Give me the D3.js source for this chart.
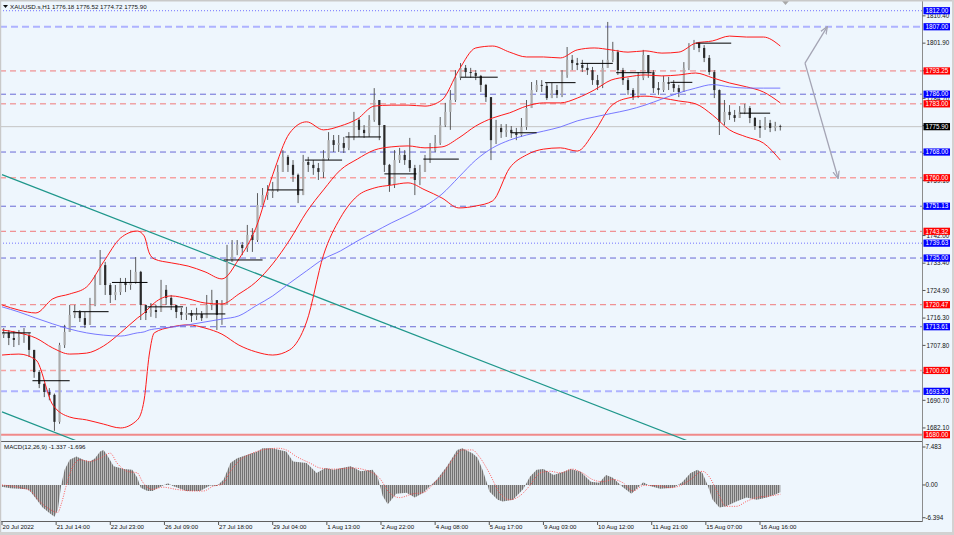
<!DOCTYPE html>
<html><head><meta charset="utf-8">
<script src="https://cdn.jsdelivr.net/npm/d3@7"></script>
<style>
body{margin:0;background:#fff;}
svg{display:block;}
text{font-family:"Liberation Sans",Arial,sans-serif;}
</style>
</head><body>
<svg id="c" width="954" height="535"></svg>
<script>
// ---------------- DATA ----------------
const titleText = "XAUUSD.s,H1  1776.18 1776.52 1774.72 1775.90";
const macdTitle = "MACD(12,26,9) -1.337 -1.696";
const timeLabels = ["20 Jul 2022","21 Jul 14:00","22 Jul 23:00","26 Jul 09:00","27 Jul 18:00","29 Jul 04:00","1 Aug 13:00","2 Aug 22:00","4 Aug 08:00","5 Aug 17:00","9 Aug 03:00","10 Aug 12:00","11 Aug 21:00","15 Aug 07:00","16 Aug 16:00"];
const timeLabelIdx = [0,32,64,96,128,160,192,224,256,288,320,352,384,416,448];
const priceTicks = [1810.40,1801.90,1793.30,1784.70,1776.20,1767.60,1759.10,1750.50,1742.00,1733.40,1724.90,1716.30,1707.80,1699.30,1690.70,1682.10];
const macdTicks = [7.483,0.00,-6.394];
const macdTickLabels = ["7.483","0.00","-6.394"];
const currentPrice = 1775.90;

const levelPrices = [1812.00,1807.00,1793.25,1786.00,1783.00,1768.00,1760.00,1751.13,1743.32,1739.63,1735.00,1720.47,1713.61,1700.00,1693.50,1680.00];
const levelKinds  = ["bdot","blight","r","b","r","b","rlight","b","r","bdot","b","r","b","rlight","blight","rsolid"];

// 3-hour candles (hourly bar index 0..460)
const opens = [1711.0,1711.7,1710.1,1709.5,1710.4,1711.0,1706.4,1699.5,1695.8,1693.3,1692.4,1684.0,1707.9,1712.0,1717.3,1718.2,1716.3,1714.2,1720.4,1726.6,1732.8,1726.6,1723.5,1724.4,1727.5,1726.6,1727.5,1730.7,1720.4,1717.9,1718.8,1718.2,1725.1,1722.6,1720.4,1718.2,1717.3,1717.9,1717.0,1717.6,1716.3,1720.4,1721.9,1717.3,1720.4,1733.8,1737.5,1739.1,1738.1,1742.2,1740.6,1751.5,1754.6,1755.6,1756.2,1761.8,1766.5,1764.0,1760.9,1754.6,1764.9,1764.0,1763.0,1761.8,1766.1,1771.7,1770.2,1770.8,1769.3,1772.4,1778.0,1774.9,1773.9,1778.0,1784.2,1776.4,1764.0,1757.7,1765.5,1767.1,1765.5,1763.0,1759.3,1761.8,1765.5,1768.6,1770.8,1776.4,1780.5,1784.2,1791.1,1794.2,1792.9,1792.6,1791.7,1788.9,1785.1,1771.7,1775.5,1774.2,1774.9,1773.9,1773.3,1775.8,1781.7,1787.3,1788.9,1788.6,1784.8,1787.3,1785.8,1792.0,1796.7,1795.7,1795.1,1794.2,1793.5,1790.4,1788.9,1794.2,1796.7,1799.1,1793.5,1790.4,1787.3,1785.1,1791.1,1798.2,1792.9,1787.9,1787.3,1789.8,1789.2,1787.9,1786.7,1794.2,1800.4,1801.9,1800.4,1797.3,1792.9,1787.3,1777.4,1780.5,1779.5,1778.6,1780.5,1781.7,1778.6,1776.1,1775.5,1777.0,1775.5,1776.1];
const highs = [1713.2,1712.6,1712.3,1712.6,1713.2,1711.7,1706.4,1700.1,1696.1,1694.5,1692.8,1708.6,1714.2,1720.4,1720.4,1718.8,1718.2,1722.6,1729.7,1737.5,1733.8,1727.2,1726.6,1728.8,1728.8,1731.3,1735.3,1731.0,1720.4,1721.0,1720.4,1728.2,1726.6,1723.5,1720.4,1719.5,1719.8,1718.8,1719.5,1718.5,1723.5,1725.1,1721.9,1721.9,1739.1,1740.6,1740.6,1740.0,1745.3,1744.3,1755.2,1756.8,1757.7,1758.7,1764.0,1768.6,1767.1,1765.5,1761.3,1767.1,1766.5,1765.5,1764.6,1768.6,1774.2,1773.3,1773.3,1772.7,1774.2,1780.5,1778.6,1776.4,1779.5,1787.9,1784.2,1776.4,1764.3,1768.6,1769.3,1768.6,1772.4,1764.0,1764.0,1767.1,1770.8,1773.3,1778.9,1783.3,1787.3,1793.5,1795.7,1795.1,1794.2,1793.5,1792.0,1789.2,1785.1,1778.0,1776.7,1776.7,1776.1,1775.5,1778.6,1784.2,1789.8,1790.4,1790.4,1789.5,1789.5,1788.9,1793.5,1800.7,1798.2,1797.3,1796.7,1795.7,1794.5,1792.0,1796.7,1808.5,1802.3,1799.8,1794.2,1791.1,1787.9,1792.9,1799.8,1798.2,1793.5,1789.8,1791.7,1791.4,1790.4,1788.9,1796.0,1801.9,1802.9,1802.3,1801.3,1798.2,1793.5,1787.5,1784.2,1782.6,1781.1,1782.3,1783.0,1782.3,1778.9,1778.0,1778.9,1778.0,1777.4,1776.5];
const lows = [1710.1,1707.9,1707.3,1707.9,1708.6,1704.2,1697.7,1694.5,1691.7,1690.7,1681.2,1683.4,1707.0,1712.0,1716.3,1715.1,1713.2,1714.2,1720.0,1726.6,1723.5,1721.0,1721.9,1723.5,1724.4,1725.1,1727.0,1715.7,1715.7,1716.7,1716.3,1718.2,1720.4,1718.8,1716.3,1715.7,1715.7,1715.1,1715.7,1715.4,1716.3,1718.8,1712.6,1714.2,1720.4,1733.8,1735.9,1735.9,1736.9,1736.9,1740.0,1751.5,1753.1,1753.7,1755.6,1761.8,1761.8,1758.7,1752.1,1754.6,1761.8,1760.9,1759.3,1759.9,1765.5,1768.0,1768.0,1767.7,1768.6,1771.7,1772.7,1772.4,1772.7,1777.4,1771.7,1761.8,1755.6,1756.8,1764.6,1764.0,1761.8,1754.6,1757.7,1761.8,1764.6,1768.0,1770.2,1775.8,1774.9,1783.6,1790.4,1791.4,1791.1,1790.4,1786.7,1783.6,1765.5,1770.5,1772.4,1772.7,1772.4,1771.7,1772.7,1774.9,1781.7,1786.7,1786.7,1784.2,1784.8,1784.8,1785.1,1791.1,1793.5,1793.5,1792.9,1792.0,1788.9,1787.3,1787.9,1794.2,1796.0,1792.0,1788.9,1785.8,1784.2,1784.8,1790.4,1791.1,1786.4,1785.8,1786.7,1787.3,1786.7,1785.1,1786.7,1793.5,1799.8,1799.1,1796.0,1792.0,1784.8,1773.3,1776.4,1778.0,1777.4,1778.6,1779.8,1777.0,1774.9,1772.4,1774.9,1774.2,1774.5,1774.7];
const closes = [1711.7,1710.1,1709.5,1710.4,1711.0,1706.4,1699.5,1695.8,1693.3,1692.4,1684.0,1707.9,1712.0,1717.3,1718.2,1716.3,1714.2,1720.4,1726.6,1732.8,1726.6,1723.5,1724.4,1727.5,1726.6,1727.5,1730.7,1720.4,1717.9,1718.8,1718.2,1725.1,1722.6,1720.4,1718.2,1717.3,1717.9,1717.0,1717.6,1716.3,1720.4,1721.9,1717.3,1720.4,1733.8,1737.5,1739.1,1738.1,1742.2,1740.6,1751.5,1754.6,1755.6,1756.2,1761.8,1766.5,1764.0,1760.9,1754.6,1764.9,1764.0,1763.0,1761.8,1766.1,1771.7,1770.2,1770.8,1769.3,1772.4,1778.0,1774.9,1773.9,1778.0,1784.2,1776.4,1764.0,1757.7,1765.5,1767.1,1765.5,1763.0,1759.3,1761.8,1765.5,1768.6,1770.8,1776.4,1780.5,1784.2,1791.1,1794.2,1792.9,1792.6,1791.7,1788.9,1785.1,1771.7,1775.5,1774.2,1774.9,1773.9,1773.3,1775.8,1781.7,1787.3,1788.9,1788.6,1784.8,1787.3,1785.8,1792.0,1796.7,1795.7,1795.1,1794.2,1793.5,1790.4,1788.9,1794.2,1796.7,1799.1,1793.5,1790.4,1787.3,1785.1,1791.1,1798.2,1792.9,1787.9,1787.3,1789.8,1789.2,1787.9,1786.7,1794.2,1800.4,1801.9,1800.4,1797.3,1792.9,1787.3,1777.4,1780.5,1779.5,1778.6,1780.5,1781.7,1778.6,1776.1,1775.5,1777.0,1775.5,1776.1,1775.9];

// Bollinger bands and moving average, read at hourly bar indices
const bandIdx = [0,10,20,30,40,50,60,70,80,84,87,90,100,110,120,130,140,150,160,170,180,190,200,210,220,230,240,250,260,270,280,290,300,310,320,330,340,350,360,370,380,390,400,410,420,430,440,450,460];
const bbUpper = [1720.4,1718.8,1717.9,1722.3,1723.8,1726.0,1733.8,1741.2,1743.4,1741.9,1736.6,1734.7,1733.5,1732.5,1730.7,1728.5,1734.7,1744.3,1760.9,1773.9,1777.4,1774.9,1776.1,1778.3,1782.3,1782.6,1782.6,1782.3,1784.2,1793.5,1800.4,1801.0,1799.1,1797.6,1797.6,1797.3,1799.8,1800.4,1799.8,1799.1,1799.5,1798.8,1799.1,1801.9,1802.6,1804.1,1803.8,1803.8,1801.0];
const bbMiddle = [1712.6,1711.7,1710.1,1707.0,1705.1,1705.4,1707.6,1711.7,1716.3,1717.9,1719.5,1721.0,1723.2,1722.3,1721.0,1720.7,1723.8,1727.5,1733.2,1740.6,1749.3,1756.2,1762.4,1765.8,1768.6,1769.6,1769.9,1769.3,1769.6,1772.4,1776.1,1778.6,1780.2,1782.3,1783.3,1783.3,1784.8,1787.3,1790.4,1791.4,1792.0,1791.7,1792.0,1792.6,1791.1,1789.5,1788.3,1786.7,1783.3];
const bbLower = [1704.8,1705.1,1703.3,1689.3,1685.5,1684.6,1683.3,1682.1,1684.6,1690.8,1704.8,1711.7,1713.5,1714.2,1713.2,1711.3,1707.9,1705.8,1704.8,1706.4,1715.1,1735.9,1747.5,1754.3,1756.8,1757.7,1758.4,1756.2,1753.7,1750.6,1751.2,1752.8,1763.0,1767.1,1768.9,1769.3,1768.3,1774.2,1782.3,1784.8,1785.4,1784.8,1783.9,1783.0,1779.5,1774.9,1772.7,1770.8,1765.5];
const maLine = [1719.8,1718.2,1716.3,1714.5,1712.9,1711.7,1711.0,1710.7,1711.7,1712.0,1712.6,1712.9,1713.5,1714.2,1715.1,1716.0,1717.0,1720.1,1723.2,1727.2,1731.0,1734.7,1737.2,1740.3,1743.1,1745.9,1748.4,1751.2,1754.9,1760.2,1765.5,1769.3,1771.7,1773.3,1774.5,1775.8,1777.7,1778.9,1780.0,1781.1,1782.6,1784.5,1786.4,1787.9,1789.0,1788.3,1787.9,1787.9,1787.9];

// daily open segments: start index, end index, price
const segStart = [0,18,42,65,86,110,131,157,179,203,226,249,271,301,321,342,363,395,410,436];
const segEnd   = [17,40,63,86,107,132,154,178,201,224,245,270,293,316,339,361,384,408,431,454];
const segPrice = [1711.7,1696.8,1718.3,1727.4,1719.8,1717.6,1734.4,1756.2,1765.5,1772.7,1761.2,1765.8,1791.3,1774.0,1789.6,1795.6,1792.7,1789.7,1801.9,1780.1];

// trend lines (index, price)
const trendIdxA = [0,410], trendPriceA = [1760.96,1677.1];
const trendIdxB = [0,60],  trendPriceB = [1687.1,1674.8];
// projection arrows
const arrowFrom = [474.6,1795.7];
const arrowUp   = [487.6,1806.9];
const arrowDown = [494.1,1759.9];

// MACD
const macdIdx = [0,5,15,17,21,24,28,31,33,35,37,40,44,48,52,55,58,60,62,66,72,77,80,82,86,89,93,98,101,109,117,123,127,131,135,139,145,151,154,160,164,168,172,180,186,191,196,206,212,219,222,225,228,233,239,244,249,253,257,263,269,272,278,281,284,287,288,293,296,302,308,312,316,320,326,332,336,342,348,353,357,361,367,372,376,379,383,389,397,402,407,411,414,417,420,424,428,434,440,446,452,458,460];
const macdVal = [-0.3,-0.6,-0.8,-1.3,-2.9,-4.1,-5.1,-5.8,-4.5,0,2.8,4.6,5.2,4.6,4.3,4.9,6.1,6.4,5.5,3.4,2.9,2.8,1.3,-0.5,-1.1,-1.1,-0.4,0.3,-0.2,-1.1,-1.1,-0.1,-0.2,1.0,4.0,4.9,5.5,6.1,6.7,6.7,6.4,6.1,4.3,4.0,2.2,3.1,2.8,3.4,2.5,2.8,1.5,-2.0,-3.5,-1.6,-1.4,-2.3,-1.4,-0.2,1.0,3.4,6.4,6.7,5.8,5.0,2.8,0,-1.2,-2.7,-3.0,-2.7,-0.8,1.5,2.8,2.9,1.8,2.4,2.9,2.4,0.6,0.4,1.8,1.3,-0.4,-1.6,-0.4,0.5,-0.2,-0.7,-0.5,0.5,2.2,2.8,2.2,0,-2.7,-4.1,-3.9,-3.0,-2.3,-2.7,-2.3,-1.6,-1.34];
const signalIdx = [0,11,17,22,28,33,35,38,41,46,52,58,64,68,74,80,83,89,95,103,113,119,125,130,135,141,148,154,163,168,174,182,188,196,207,217,223,229,235,243,249,255,261,267,272,278,282,288,294,300,306,312,318,324,330,337,343,349,355,361,367,373,379,387,395,401,407,414,418,423,428,434,440,446,454,460];
const signalVal = [0,-0.5,-1.1,-2.9,-4.4,-5.0,-3.5,-0.1,2.8,4.6,4.3,4.9,5.8,4.0,2.5,2.2,0.6,-0.8,-0.4,-0.8,-1.1,-1.1,-0.2,0.1,2.5,4.6,5.8,6.4,6.7,6.4,5.2,4.0,3.1,2.9,3.1,2.5,1.3,-1.4,-2.3,-1.6,-1.4,0.2,2.2,4.9,6.4,6.4,5.2,2.2,-1.4,-2.7,-2.0,-0.1,2.2,2.5,2.2,2.9,2.2,1.0,0.6,1.0,0.4,-1.1,-0.1,-0.1,-0.5,-0.1,1.0,2.5,1.5,-1.4,-3.9,-3.9,-3.0,-2.3,-2.0,-1.7];

// ---------------- DRAW ----------------
const svg = d3.select("#c");
const axisX = 922.5;
const mainTop = 2, mainBot = 439, macdTop = 443, macdBot = 521;

const x  = d3.scaleLinear().domain([0,460]).range([2,780.3]);
const xc = d3.scaleLinear().domain([0,closes.length-1]).range([x(1),x(460)]);
const y  = d3.scaleLinear().domain([1678.66,1814.71]).range([mainBot,mainTop]);
const ym = d3.scaleLinear().domain([-6.394,7.483]).range([520,444]);

const bg = "#eef6fd";
svg.append("rect").attr("width",954).attr("height",535).attr("fill",bg);

const defs = svg.append("defs");
defs.append("clipPath").attr("id","clipMain").append("rect")
  .attr("x",0).attr("y",mainTop).attr("width",axisX).attr("height",mainBot-mainTop+1);
defs.append("clipPath").attr("id","clipMacd").append("rect")
  .attr("x",0).attr("y",macdTop).attr("width",axisX).attr("height",macdBot-macdTop);
const pat = defs.append("pattern").attr("id","hs").attr("patternUnits","userSpaceOnUse")
  .attr("width",2).attr("height",4);
pat.append("rect").attr("width",2).attr("height",4).attr("fill","#c2c2c2");
pat.append("rect").attr("width",1.1).attr("height",4).attr("fill","#727272");
defs.append("marker").attr("id","ah").attr("viewBox","0 0 10 10").attr("refX",9).attr("refY",5)
  .attr("markerWidth",6).attr("markerHeight",6).attr("orient","auto")
  .append("path").attr("d","M0,1 L10,5 L0,9").attr("fill","none").attr("stroke","#a4a4b4").attr("stroke-width",1.6);

const main = svg.append("g").attr("clip-path","url(#clipMain)");

// level lines
const styles = {
  bdot:{c:"#7272ff",w:1,d:"1,2",box:"#0000ff"},
  blight:{c:"#aeb3ff",w:2,d:"7,4",box:"#0000ff"},
  b:{c:"#6a6ad6",w:1,d:"6,4",box:"#0000ff"},
  r:{c:"#f07a7a",w:1,d:"6,4",box:"#ff0000"},
  rlight:{c:"#f7a2a2",w:1.4,d:"6,4",box:"#ff0000"},
  rsolid:{c:"#f08a8a",w:2,d:null,box:"#ff0000"}
};
levelPrices.forEach((p,i)=>{
  const s = styles[levelKinds[i]];
  const ln = main.append("line").attr("x1",0).attr("x2",axisX).attr("y1",y(p)).attr("y2",y(p))
    .attr("stroke",s.c).attr("stroke-width",s.w);
  if(s.d) ln.attr("stroke-dasharray",s.d);
});
// current price line
main.append("line").attr("x1",0).attr("x2",axisX).attr("y1",y(currentPrice)).attr("y2",y(currentPrice))
  .attr("stroke","#c4c4c4").attr("stroke-width",1);

// trend lines
const tl = d3.line().x(d=>x(d[0])).y(d=>y(d[1]));
[[trendIdxA,trendPriceA],[trendIdxB,trendPriceB]].forEach(([ii,pp])=>{
  main.append("path").attr("d",tl(ii.map((v,k)=>[v,pp[k]]))).attr("fill","none")
    .attr("stroke","#1f978b").attr("stroke-width",1.2);
});

// candles
const cg = main.append("g");
closes.forEach((c,k)=>{
  const o = opens[k], cx = xc(k);
  cg.append("line").attr("x1",cx).attr("x2",cx).attr("y1",y(highs[k])).attr("y2",y(lows[k]))
    .attr("stroke","#4a4a4a").attr("stroke-width",0.9);
  const top = y(Math.max(o,c)), bot = y(Math.min(o,c));
  cg.append("rect").attr("x",cx-1.1).attr("width",2.2).attr("y",top).attr("height",Math.max(0.8,bot-top))
    .attr("fill", c>=o ? "#acacac" : "#2a2a2a");
});

// bands & MA
const bl = arr => d3.line().curve(d3.curveMonotoneX).x((d,i)=>x(bandIdx[i])).y(d=>y(d))(arr);
[bbUpper,bbMiddle,bbLower].forEach(a=>{
  main.append("path").attr("d",bl(a)).attr("fill","none").attr("stroke","#ff1a1a").attr("stroke-width",1);
});
main.append("path").attr("d",bl(maLine)).attr("fill","none").attr("stroke","#6a6aff").attr("stroke-width",0.9);

// segments
segPrice.forEach((p,i)=>{
  main.append("line").attr("x1",x(segStart[i])).attr("x2",x(segEnd[i])).attr("y1",y(p)).attr("y2",y(p))
    .attr("stroke","#000").attr("stroke-width",1);
});

// arrows
[arrowUp,arrowDown].forEach(t=>{
  svg.append("line").attr("x1",x(arrowFrom[0])).attr("y1",y(arrowFrom[1]))
    .attr("x2",x(t[0])).attr("y2",y(t[1])).attr("stroke","#a4a4b4").attr("stroke-width",1.3)
    .attr("marker-end","url(#ah)");
});

// shift marker
svg.append("path").attr("d","M782,1 L789,1 L785.5,5 Z").attr("fill","#a8a8a8");

// MACD pane
const mg = svg.append("g").attr("clip-path","url(#clipMacd)");
const area = d3.area().x((d,i)=>x(macdIdx[i])).y0(ym(0)).y1(d=>ym(d));
mg.append("path").attr("d",area(macdVal)).attr("fill","url(#hs)");
const sl = d3.line().curve(d3.curveMonotoneX).x((d,i)=>x(signalIdx[i])).y(d=>ym(d));
mg.append("path").attr("d",sl(signalVal)).attr("fill","none").attr("stroke","#ff4a4a")
  .attr("stroke-width",0.9).attr("stroke-dasharray","1,1.4");

// frame lines
svg.append("line").attr("x1",0).attr("x2",axisX).attr("y1",441.5).attr("y2",441.5).attr("stroke","#606060").attr("stroke-width",1);
svg.append("line").attr("x1",0).attr("x2",axisX).attr("y1",macdBot+0.5).attr("y2",macdBot+0.5).attr("stroke","#606060").attr("stroke-width",1);
svg.append("line").attr("x1",axisX).attr("x2",axisX).attr("y1",0).attr("y2",macdBot+1).attr("stroke","#8c8c8c").attr("stroke-width",1);
svg.append("rect").attr("x",0).attr("y",0).attr("width",954).attr("height",1.5).attr("fill","#c9c9c9");
svg.append("rect").attr("x",0).attr("y",0).attr("width",1.2).attr("height",535).attr("fill","#c9c9c9");
svg.append("rect").attr("x",952).attr("y",0).attr("width",2).attr("height",535).attr("fill","#d2d2d2");
svg.append("rect").attr("x",0).attr("y",532).attr("width",954).attr("height",3).attr("fill","#d2d2d2");

const fs = 6.3;
// level boxes (positions used to hide fully covered tick labels)
const boxes = levelPrices.map((p,i)=>({p, col:styles[levelKinds[i]].box}));
boxes.push({p:currentPrice,col:"#000"});
// right price axis: labels fully covered by a box are not drawn (they are hidden in the reference too)
priceTicks.forEach(p=>{
  svg.append("line").attr("x1",axisX).attr("x2",axisX+3).attr("y1",y(p)).attr("y2",y(p)).attr("stroke","#555");
  const covered = boxes.some(b=>Math.abs(y(b.p)-y(p))<2.5);
  if(!covered)
    svg.append("text").attr("x",926.5).attr("y",y(p)+2.2).attr("font-size",fs).attr("fill","#111").text(p.toFixed(2));
});
boxes.forEach(b=>{
  svg.append("rect").attr("x",923.5).attr("y",y(b.p)-3.6).attr("width",26.5).attr("height",7.2).attr("fill",b.col);
  svg.append("text").attr("x",925.6).attr("y",y(b.p)+2.2).attr("font-size",fs).attr("fill","#fff").text(b.p.toFixed(2));
});
// MACD axis
macdTicks.forEach((v,i)=>{
  const yy = i===0 ? 447 : (i===2 ? 517.7 : ym(v));
  svg.append("line").attr("x1",axisX).attr("x2",axisX+3).attr("y1",yy).attr("y2",yy).attr("stroke","#555");
  svg.append("text").attr("x",925.5).attr("y",yy+2.2).attr("font-size",fs).attr("fill","#111").text(macdTickLabels[i]);
});
// time axis
timeLabelIdx.forEach((ix,i)=>{
  const xx = x(ix);
  svg.append("line").attr("x1",xx).attr("x2",xx).attr("y1",macdBot+1).attr("y2",macdBot+4).attr("stroke","#555");
  svg.append("text").attr("x",xx+0.5).attr("y",529.3).attr("font-size",6.1).attr("fill","#111").text(timeLabels[i]);
});
// titles
svg.append("path").attr("d","M3,5 L8,5 L5.5,8 Z").attr("fill","#111");
svg.append("text").attr("x",10).attr("y",8.8).attr("font-size",6.2).attr("fill","#111").text(titleText);
svg.append("text").attr("x",4).attr("y",449).attr("font-size",6.2).attr("fill","#111").text(macdTitle);
</script>
</body></html>
